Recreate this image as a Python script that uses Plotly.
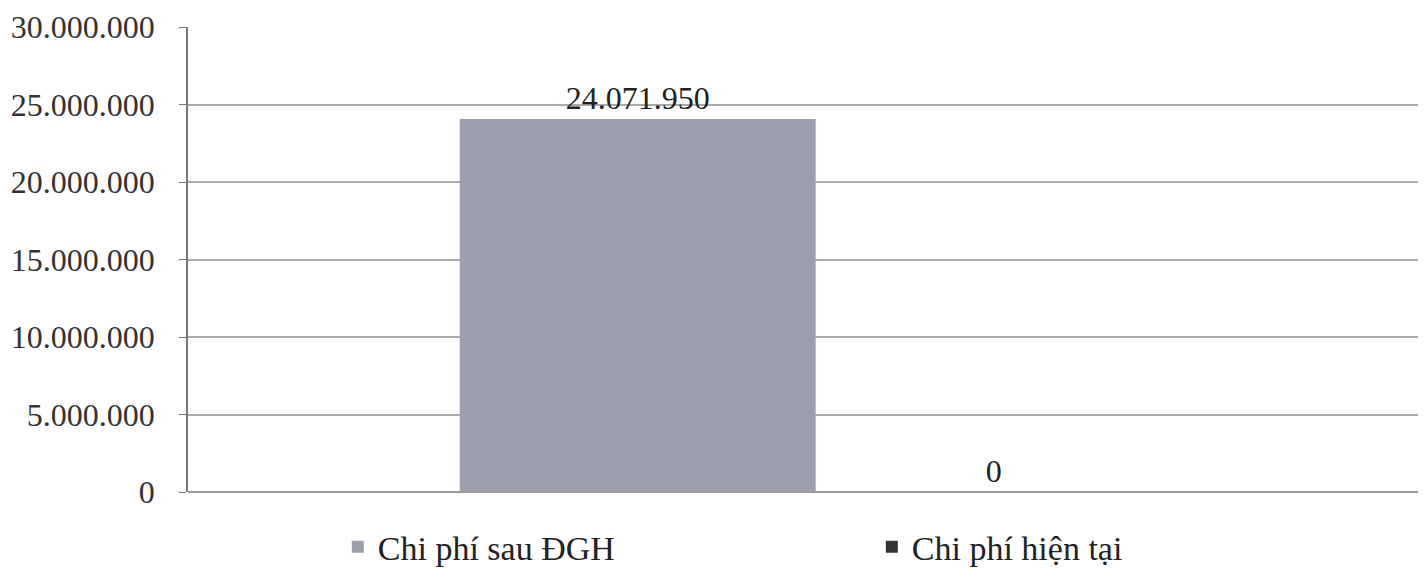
import plotly.graph_objects as go

categories = [""]
series_names = ["Chi phí sau ĐGH", "Chi phí hiện tại"]
series_values = [[24071950], [0]]
series_labels = ["24.071.950", "0"]
colors = ["#9c9eab", "#333333"]

tick_vals = [0, 5000000, 10000000, 15000000, 20000000, 25000000, 30000000]

FONT = "Liberation Serif"

fig = go.Figure()
for name, vals, lab, col in zip(series_names, series_values, series_labels, colors):
    fig.add_trace(go.Bar(
        x=categories, y=vals, name=name,
        marker=dict(color=col, line=dict(width=0)),
        text=[lab], textposition="outside", cliponaxis=False,
        textfont=dict(family=FONT, size=32, color="#222222"),
    ))

fig.update_layout(
    width=1418, height=565,
    margin=dict(l=180, r=0, t=19, b=81, autoexpand=False),
    paper_bgcolor="white", plot_bgcolor="white",
    barmode="group", bargap=0.425, bargroupgap=0,
    separators=",.",
    font=dict(family=FONT, size=32, color="#333333"),
    showlegend=True,
    legend=dict(
        orientation="h", x=0.121, xanchor="left", y=-0.056, yanchor="top",
        entrywidth=489, entrywidthmode="pixels",
        font=dict(family=FONT, size=34, color="#222222"),
    ),
    xaxis=dict(showline=False, showgrid=False, showticklabels=False, ticks="",
               automargin=False, range=[-0.507, 0.493]),
    yaxis=dict(
        range=[0, 30000000], tickvals=tick_vals, tickformat=",d",
        automargin=False,
        showgrid=True, gridcolor="#aaaaaa", gridwidth=1.5,
        showline=True, linecolor="#777777", linewidth=1.5,
        ticks="outside", ticklen=7, tickcolor="#777777",
        ticklabelstandoff=18,
        zeroline=True, zerolinecolor="#999999", zerolinewidth=1.5,
        tickfont=dict(family=FONT, size=32, color="#333333"),
    ),
)

fig.write_html("out.html")
